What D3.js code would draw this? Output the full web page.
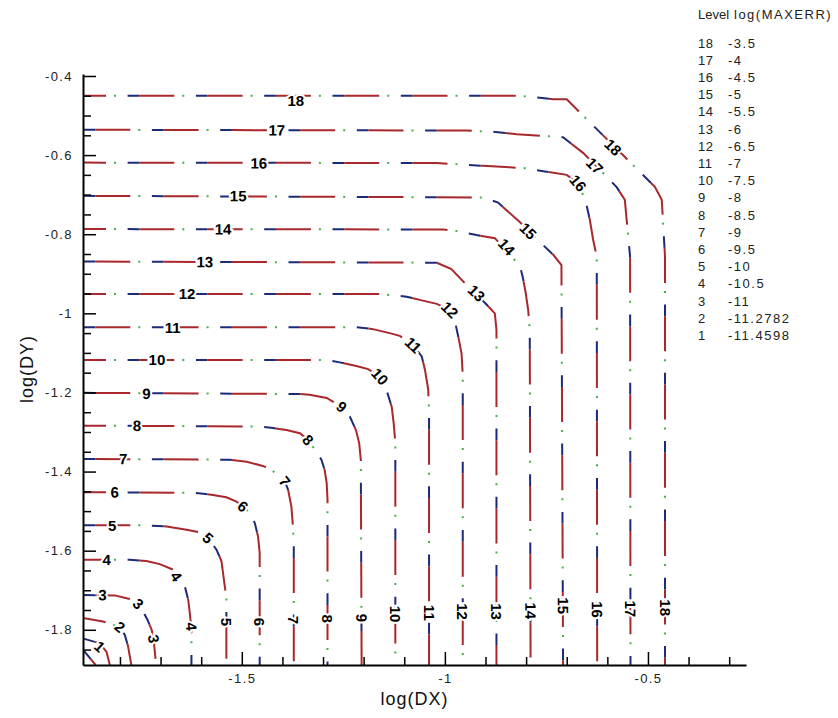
<!DOCTYPE html>
<html>
<head>
<meta charset="utf-8">
<script src="https://cdn.jsdelivr.net/npm/d3@7"></script>
<style>
  body { margin: 0; background: #fff; }
  svg { display: block; }
</style>
</head>
<body>
<svg id="chart" width="838" height="718"></svg>
<script>
// #region Data
// contour levels and their log(MAXERR) value (legend, top to bottom)
const levels = [18, 17, 16, 15, 14, 13, 12, 11, 10, 9, 8, 7, 6, 5, 4, 3, 2, 1];
const levelValues = [-3.5, -4, -4.5, -5, -5.5, -6, -6.5, -7, -7.5, -8, -8.5, -9, -9.5, -10, -10.5, -11, -11.2782, -11.4598];

// axis ticks
const xMajor = [-1.5, -1, -0.5];
const xMinor = [-1.8, -1.7, -1.6, -1.4, -1.3, -1.2, -1.1, -0.9, -0.8, -0.7, -0.6, -0.4, -0.3];
const yMajor = [-1.8, -1.6, -1.4, -1.2, -1, -0.8, -0.6, -0.4];
const yMinor = [-1.85, -1.75, -1.7, -1.65, -1.55, -1.5, -1.45, -1.35, -1.3, -1.25, -1.15, -1.1, -1.05,
  -0.95, -0.9, -0.85, -0.75, -0.7, -0.65, -0.55, -0.5, -0.45];

// contour polylines, [log(DX), log(DY)] vertices
const c18 = [[-1.891, -0.450], [-0.815, -0.450], [-0.733, -0.459], [-0.700, -0.459], [-0.483, -0.680], [-0.466, -0.713], [-0.458, -0.857], [-0.458, -1.889]];
const c17 = [[-1.891, -0.536], [-0.947, -0.538], [-0.881, -0.541], [-0.823, -0.547], [-0.750, -0.552], [-0.709, -0.555], [-0.659, -0.595], [-0.606, -0.650], [-0.577, -0.681], [-0.557, -0.713], [-0.544, -0.857], [-0.543, -1.889]];
const c16 = [[-1.891, -0.619], [-1.020, -0.620], [-0.906, -0.627], [-0.840, -0.631], [-0.803, -0.633], [-0.750, -0.642], [-0.700, -0.650], [-0.672, -0.671], [-0.653, -0.718], [-0.643, -0.764], [-0.635, -0.814], [-0.626, -0.857], [-0.625, -1.889]];
const c15 = [[-1.891, -0.703], [-0.906, -0.707], [-0.869, -0.720], [-0.815, -0.770], [-0.774, -0.812], [-0.733, -0.852], [-0.713, -0.878], [-0.709, -1.889]];
const c14 = [[-1.891, -0.787], [-1.004, -0.788], [-0.971, -0.792], [-0.922, -0.802], [-0.877, -0.810], [-0.815, -0.880], [-0.808, -0.910], [-0.801, -0.948], [-0.795, -0.991], [-0.791, -1.042], [-0.789, -1.889]];
const c13 = [[-1.891, -0.869], [-1.020, -0.872], [-0.984, -0.888], [-0.947, -0.928], [-0.901, -0.974], [-0.877, -1.000], [-0.873, -1.042], [-0.873, -1.889]];
const c12 = [[-1.891, -0.951], [-1.160, -0.951], [-1.094, -0.958], [-1.062, -0.966], [-1.020, -0.976], [-0.988, -0.991], [-0.975, -1.021], [-0.967, -1.059], [-0.959, -1.101], [-0.956, -1.156], [-0.956, -1.889]];
const c11 = [[-1.891, -1.035], [-1.218, -1.035], [-1.177, -1.040], [-1.136, -1.050], [-1.111, -1.057], [-1.078, -1.080], [-1.057, -1.109], [-1.049, -1.143], [-1.041, -1.193], [-1.039, -1.244], [-1.039, -1.889]];
const c10 = [[-1.891, -1.118], [-1.291, -1.118], [-1.259, -1.124], [-1.218, -1.133], [-1.189, -1.141], [-1.160, -1.160], [-1.144, -1.193], [-1.131, -1.236], [-1.126, -1.278], [-1.122, -1.328], [-1.122, -1.889]];
const c9 = [[-1.891, -1.201], [-1.357, -1.204], [-1.333, -1.206], [-1.291, -1.214], [-1.254, -1.236], [-1.234, -1.261], [-1.219, -1.295], [-1.211, -1.328], [-1.207, -1.370], [-1.205, -1.889]];
const c8 = [[-1.891, -1.284], [-1.456, -1.286], [-1.423, -1.290], [-1.390, -1.295], [-1.357, -1.303], [-1.337, -1.320], [-1.320, -1.345], [-1.304, -1.370], [-1.296, -1.396], [-1.291, -1.429], [-1.289, -1.471], [-1.289, -1.889]];
const c7 = [[-1.891, -1.368], [-1.530, -1.370], [-1.488, -1.375], [-1.448, -1.386], [-1.427, -1.394], [-1.411, -1.413], [-1.394, -1.425], [-1.386, -1.446], [-1.378, -1.488], [-1.374, -1.539], [-1.372, -1.585], [-1.372, -1.889]];
const c6 = [[-1.891, -1.452], [-1.612, -1.454], [-1.571, -1.459], [-1.538, -1.465], [-1.513, -1.476], [-1.497, -1.488], [-1.480, -1.505], [-1.468, -1.530], [-1.460, -1.564], [-1.456, -1.606], [-1.456, -1.889]];
const c5 = [[-1.891, -1.536], [-1.735, -1.536], [-1.685, -1.539], [-1.636, -1.547], [-1.603, -1.554], [-1.583, -1.568], [-1.562, -1.598], [-1.550, -1.627], [-1.544, -1.674], [-1.538, -1.719], [-1.538, -1.889]];
const c4 = [[-1.891, -1.623], [-1.776, -1.623], [-1.735, -1.626], [-1.702, -1.634], [-1.669, -1.648], [-1.640, -1.691], [-1.632, -1.724], [-1.628, -1.758], [-1.624, -1.800], [-1.624, -1.889]];
const c3 = [[-1.891, -1.712], [-1.813, -1.713], [-1.776, -1.722], [-1.755, -1.734], [-1.743, -1.754], [-1.732, -1.775], [-1.722, -1.800], [-1.717, -1.825], [-1.711, -1.889]];
const c2 = [[-1.891, -1.770], [-1.842, -1.779], [-1.817, -1.787], [-1.800, -1.795], [-1.788, -1.813], [-1.780, -1.842], [-1.772, -1.889]];
const c1 = [[-1.891, -1.822], [-1.850, -1.834], [-1.833, -1.856], [-1.825, -1.889]];
const c1b = [[-1.891, -1.850], [-1.860, -1.889]];

// contour labels: [level, log(DX), log(DY)]
const labelsLeft = [[18, -1.367, -0.463], [17, -1.414, -0.537], [16, -1.458, -0.620], [15, -1.509, -0.703], [14, -1.546, -0.787], [13, -1.591, -0.870], [12, -1.635, -0.951], [11, -1.670, -1.035], [10, -1.709, -1.118], [9, -1.735, -1.203], [8, -1.758, -1.284], [7, -1.792, -1.368], [6, -1.813, -1.452], [5, -1.819, -1.536], [4, -1.833, -1.623], [3, -1.843, -1.712]];
const labelsCorner = [[18, -0.586, -0.580], [17, -0.631, -0.627], [16, -0.672, -0.671], [15, -0.795, -0.792], [14, -0.848, -0.832], [13, -0.922, -0.949], [12, -0.988, -0.991], [11, -1.078, -1.080], [10, -1.160, -1.160], [9, -1.254, -1.236], [8, -1.337, -1.320], [7, -1.394, -1.425], [6, -1.497, -1.488], [5, -1.583, -1.568], [4, -1.661, -1.665], [3, -1.755, -1.734], [2, -1.800, -1.793], [1, -1.850, -1.842]];
const labelsBottom = [[3, -1.717, -1.823], [4, -1.624, -1.792], [5, -1.538, -1.780], [6, -1.456, -1.780], [7, -1.372, -1.775], [8, -1.289, -1.772], [9, -1.205, -1.770], [10, -1.122, -1.760], [11, -1.039, -1.757], [12, -0.956, -1.754], [13, -0.873, -1.754], [14, -0.789, -1.752], [15, -0.709, -1.739], [16, -0.625, -1.749], [17, -0.543, -1.747], [18, -0.458, -1.744]];
// #endregion

const contourPieces = [
  [1, c1], [1, c1b], [2, c2], [3, c3], [4, c4], [5, c5], [6, c6], [7, c7], [8, c8], [9, c9],
  [10, c10], [11, c11], [12, c12], [13, c13], [14, c14], [15, c15], [16, c16], [17, c17], [18, c18],
];

const FONT = "'Liberation Sans', Arial, Helvetica, sans-serif";
const svg = d3.select("#chart");

const x = d3.scaleLinear().domain([-1.891, -0.2586]).range([83, 746]);
const y = d3.scaleLinear().domain([-1.889, -0.395]).range([665, 74]);

svg.append("defs").append("clipPath").attr("id", "plot")
  .append("rect").attr("x", 83).attr("y", 74).attr("width", 663).attr("height", 591);

// #region Contour lines
// each line is three overlaid dash layers: green dot, navy dash, red dash
const period = 68.3;
const layers = [
  { color: "#47ad4f", dash: "2 66.3", shift: 25.3 },
  { color: "#1d2a78", dash: "11.7 56.6", shift: 11.7 },
  { color: "#a8282c", dash: "35 33.3", shift: 0 },
];
const line = d3.line().x((d) => x(d[0])).y((d) => y(d[1]));

const gLines = svg.append("g").attr("clip-path", "url(#plot)");
const pathNodes = [];
contourPieces.forEach(([lev, pts]) => {
  const phase = lev % 2 === 0 ? 12 : 56;
  layers.forEach((L, i) => {
    const p = gLines.append("path")
      .attr("d", line(pts))
      .attr("fill", "none")
      .attr("stroke", L.color)
      .attr("stroke-width", 2)
      .attr("stroke-dasharray", L.dash)
      .attr("stroke-dashoffset", (L.shift + phase) % period);
    if (i === 2) pathNodes.push({ lev, node: p.node() });
  });
});
// #endregion

// #region Contour labels
function placeLabel(lev, lx, ly) {
  const px = x(lx), py = y(ly);
  let best = Infinity, angle = 0;
  pathNodes.filter((p) => p.lev === lev).forEach(({ node }) => {
    const len = node.getTotalLength();
    let bs = 0, bd = Infinity;
    for (let s = 0; s <= len; s += 1) {
      const q = node.getPointAtLength(s);
      const d = Math.hypot(q.x - px, q.y - py);
      if (d < bd) { bd = d; bs = s; }
    }
    if (bd < best) {
      best = bd;
      const a = node.getPointAtLength(Math.max(0, bs - 6));
      const b = node.getPointAtLength(Math.min(len, bs + 6));
      angle = Math.atan2(b.y - a.y, b.x - a.x) * 180 / Math.PI;
    }
  });
  if (angle > 90) angle -= 180;
  if (angle < -90) angle += 180;
  return { px, py, angle };
}

const allLabels = [...labelsLeft, ...labelsCorner, ...labelsBottom].map(([lev, lx, ly]) => ({
  lev, ...placeLabel(lev, lx, ly),
}));

svg.append("g").selectAll("text")
  .data(allLabels)
  .enter()
  .append("text")
  .attr("transform", (d) => `translate(${d.px},${d.py}) rotate(${d.angle})`)
  .attr("text-anchor", "middle")
  .attr("dy", "0.36em")
  .attr("font-family", FONT)
  .attr("font-size", 15)
  .attr("font-weight", "bold")
  .attr("fill", "#000")
  .attr("stroke", "#fff")
  .attr("stroke-width", 4)
  .attr("paint-order", "stroke")
  .text((d) => d.lev);
// #endregion

// #region Axes
const fmt = (d) => String(d);

function styleAxis(g, hideDomain) {
  g.selectAll(".tick line").attr("stroke", "#000").attr("stroke-width", 1.5);
  g.selectAll(".tick text")
    .attr("font-family", FONT)
    .attr("font-size", 13)
    .attr("letter-spacing", "1.4px")
    .attr("fill", "#222");
  g.select(".domain").attr("stroke", "#000").attr("stroke-width", 2)
    .style("display", hideDomain ? "none" : null);
}

svg.append("g").attr("transform", "translate(0,665)")
  .call(d3.axisBottom(x).tickValues(xMinor).tickSize(-8).tickSizeOuter(0).tickFormat(""))
  .call((g) => styleAxis(g, true));
svg.append("g").attr("transform", "translate(0,665)")
  .call(d3.axisBottom(x).tickValues(xMajor).tickSize(-13).tickSizeOuter(0).tickPadding(9).tickFormat(fmt))
  .call((g) => styleAxis(g, false));

svg.append("g").attr("transform", "translate(83,0)")
  .call(d3.axisLeft(y).tickValues(yMinor).tickSize(-8).tickSizeOuter(0).tickFormat(""))
  .call((g) => styleAxis(g, true));
svg.append("g").attr("transform", "translate(83,0)")
  .call(d3.axisLeft(y).tickValues(yMajor).tickSize(-13).tickSizeOuter(0).tickPadding(10).tickFormat(fmt))
  .call((g) => styleAxis(g, false));

svg.append("text")
  .attr("x", 414.5)
  .attr("y", 705)
  .attr("text-anchor", "middle")
  .attr("font-family", FONT)
  .attr("font-size", 18)
  .attr("letter-spacing", "1px")
  .attr("fill", "#111")
  .text("log(DX)");

svg.append("text")
  .attr("transform", "rotate(-90)")
  .attr("x", -369)
  .attr("y", 33)
  .attr("text-anchor", "middle")
  .attr("font-family", FONT)
  .attr("font-size", 18)
  .attr("letter-spacing", "1px")
  .attr("fill", "#111")
  .text("log(DY)");
// #endregion

// #region Legend
const legend = svg.append("g")
  .attr("font-family", FONT)
  .attr("font-size", 13)
  .attr("fill", "#222");

legend.append("text").attr("x", 698).attr("y", 19).attr("letter-spacing", "0px").text("Level");
legend.append("text").attr("x", 734).attr("y", 19).attr("letter-spacing", "1.5px").text("log(MAXERR)");

const rows = legend.selectAll("g.row")
  .data(levels.map((lev, i) => ({ lev, val: levelValues[i], i })))
  .enter()
  .append("g")
  .attr("transform", (d) => `translate(0,${43 + d.i * 17.2})`);
rows.append("text").attr("x", 698).attr("dy", "0.36em").attr("letter-spacing", "0.5px").text((d) => d.lev);
rows.append("text").attr("x", 728).attr("dy", "0.36em").attr("letter-spacing", "1.5px").text((d) => String(d.val));
// #endregion
</script>
</body>
</html>
